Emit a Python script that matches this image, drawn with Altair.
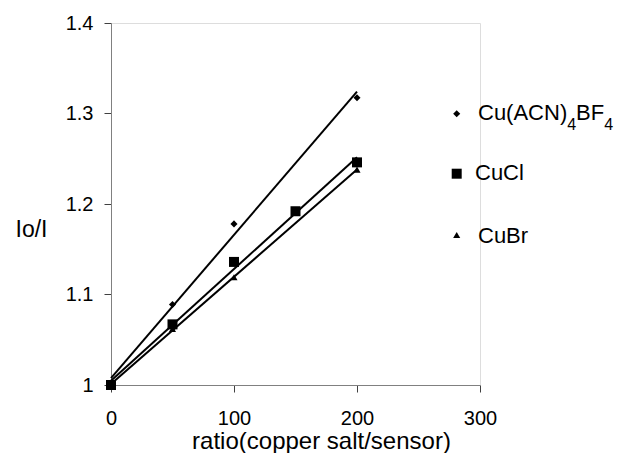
import altair as alt
import pandas as pd

# Data
x_bf4 = [0, 50, 100, 200]
y_bf4 = [1.0, 1.089, 1.178, 1.3175]
x_cucl = [0, 50, 100, 150, 200]
y_cucl = [1.0, 1.067, 1.136, 1.192, 1.246]
x_cubr = [0, 50, 100, 200]
y_cubr = [1.0, 1.062, 1.119, 1.238]

series_names = ["Cu(ACN)4BF4", "CuCl", "CuBr"]
shapes = ["diamond", "square", "triangle-up"]
sizes = [50, 100, 50]

rows = []
for name, xs, ys in zip(series_names, [x_bf4, x_cucl, x_cubr], [y_bf4, y_cucl, y_cubr]):
    for x, y in zip(xs, ys):
        rows.append({"series": name, "x": x, "y": y})
df = pd.DataFrame(rows)

FONT = "Liberation Sans"

xscale = alt.Scale(domain=[0, 300], nice=False)
yscale = alt.Scale(domain=[1.0, 1.4], nice=False, zero=False)

xaxis = alt.Axis(
    values=[0, 100, 200, 300], grid=False, domainColor="#808080", tickColor="#404040",
    tickSize=7, labelFontSize=20, labelFont=FONT, labelColor="black", labelPadding=16,
    labelFlush=False,
    title="ratio(copper salt/sensor)", titleFontSize=24, titleFont=FONT,
    titleFontWeight="normal", titleColor="black", titleX=210, titleY=63,
    titleBaseline="alphabetic",
)
yaxis = alt.Axis(
    values=[1.0, 1.1, 1.2, 1.3, 1.4], format="~g", grid=False, domainColor="#808080",
    tickColor="#404040", tickSize=7, labelFontSize=20, labelFont=FONT, labelColor="black",
    labelPadding=11, labelFlush=False, title="Io/I", titleFontSize=23, titleFont=FONT,
    titleFontWeight="normal", titleColor="black", titleAngle=0, titleAlign="left",
    titleBaseline="middle", titleX=-96, titleY=206,
)

base = alt.Chart(df)

points = []
for name, shp, sz in zip(series_names, shapes, sizes):
    points.append(
        base.transform_filter(alt.datum.series == name)
        .mark_point(shape=shp, filled=True, color="black", size=sz, opacity=1)
        .encode(x=alt.X("x:Q", scale=xscale, axis=xaxis), y=alt.Y("y:Q", scale=yscale, axis=yaxis))
    )

lines = (
    base.transform_regression("x", "y", groupby=["series"], extent=[0, 200])
    .mark_line(color="black", strokeWidth=2)
    .encode(x=alt.X("x:Q", scale=xscale), y=alt.Y("y:Q", scale=yscale), detail="series:N")
)

# Custom legend (annotation)
leg_marker_y = [90.7, 150.7, 212]
leg_text_y = [89.7, 149.5, 213]
leg_text_x = [367, 364, 367]
LF = 22   # legend font size
SF = 16   # subscript font size

legend_layers = []
for shp, sz, my in zip(shapes, sizes, leg_marker_y):
    legend_layers.append(
        alt.Chart(pd.DataFrame({"k": [0]})).mark_point(shape=shp, filled=True, color="black", size=sz, opacity=1)
        .encode(x=alt.value(345.7), y=alt.value(my))
    )

w_cuacn = 4.055 * LF
w_sub = 0.556 * SF
w_bf = 1.278 * LF
pieces_bf4 = [
    ("Cu(ACN)", LF, 0, 0),
    ("4", SF, w_cuacn, 12),
    ("BF", LF, w_cuacn + w_sub, 0),
    ("4", SF, w_cuacn + w_sub + w_bf, 12),
]
for txt, fs, off, dy in pieces_bf4:
    legend_layers.append(
        alt.Chart(pd.DataFrame({"t": [txt]})).mark_text(align="left", baseline="middle", fontSize=fs, font=FONT, color="black", dy=dy)
        .encode(x=alt.value(leg_text_x[0] + off), y=alt.value(leg_text_y[0]), text="t:N")
    )
for name, tx, ty in zip(series_names[1:], leg_text_x[1:], leg_text_y[1:]):
    legend_layers.append(
        alt.Chart(pd.DataFrame({"t": [name]})).mark_text(align="left", baseline="middle", fontSize=LF, font=FONT, color="black")
        .encode(x=alt.value(tx), y=alt.value(ty), text="t:N")
    )

chart = (
    alt.layer(lines, *points, *legend_layers)
    .properties(width=369, height=362, padding={"left": 7, "top": 5, "right": 0, "bottom": 0})
    .configure_view(stroke=None)
    .configure(background="white")
)

chart.save("out.html", embed_options={"renderer": "svg", "actions": False})
